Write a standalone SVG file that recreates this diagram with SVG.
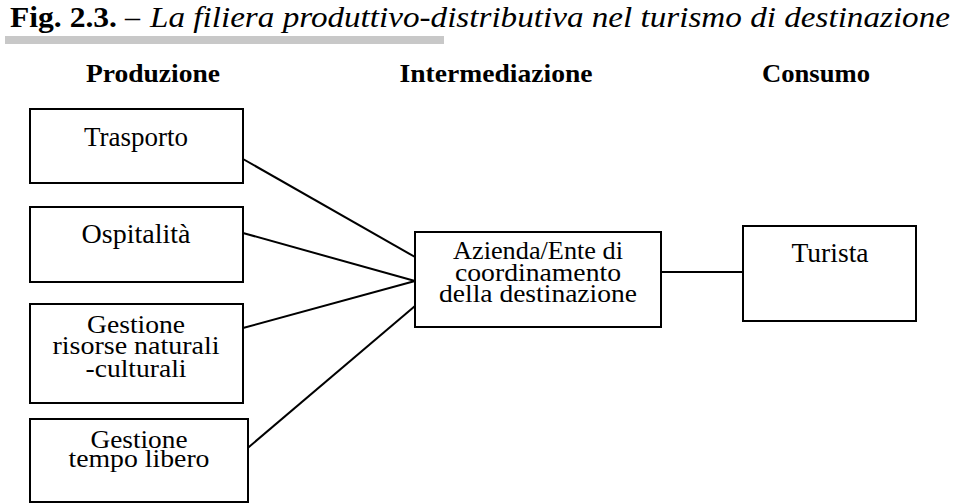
<svg xmlns="http://www.w3.org/2000/svg" width="960" height="504" viewBox="0 0 960 504" font-family="'Liberation Serif', Tinos, 'Times New Roman', Times, serif">
<style>
text{font-family:'Liberation Serif', Tinos, 'Times New Roman', Times, serif;fill:#000}
.box{fill:#fff;stroke:#000;stroke-width:2}
.lbl{font-size:28px;text-anchor:middle}
.sm{font-size:26px;text-anchor:middle}
.hdr{font-size:26px;font-weight:bold;text-anchor:middle}
.ttl{font-size:30px}
#connectors line{stroke:#000;stroke-width:2}
</style>
<rect width="960" height="504" fill="#fff"/>
<g id="title">
<text class="ttl" x="10" y="27" font-weight="bold" textLength="107" lengthAdjust="spacingAndGlyphs">Fig. 2.3.</text>
<text class="ttl" x="125" y="27" font-style="italic">–</text>
<text class="ttl" x="150" y="27" font-style="italic" textLength="800" lengthAdjust="spacingAndGlyphs">La filiera produttivo-distributiva nel turismo di destinazione</text>
<rect x="5" y="36" width="439" height="8" fill="#c8c8c8"/>
</g>
<g id="headers">
<text class="hdr" x="153" y="82" textLength="134" lengthAdjust="spacingAndGlyphs">Produzione</text>
<text class="hdr" x="496" y="82" textLength="193" lengthAdjust="spacingAndGlyphs">Intermediazione</text>
<text class="hdr" x="816" y="82" textLength="108" lengthAdjust="spacingAndGlyphs">Consumo</text>
</g>
<g id="connectors">
<line x1="243" y1="159" x2="415" y2="257"/>
<line x1="243" y1="233" x2="415" y2="281"/>
<line x1="243" y1="328" x2="415" y2="281"/>
<line x1="243" y1="452" x2="415" y2="306"/>
<line x1="661" y1="272" x2="743" y2="272"/>
</g>
<g id="trasporto">
<rect class="box" x="30" y="109" width="213" height="74"/>
<text class="lbl" x="136" y="146" textLength="104" lengthAdjust="spacingAndGlyphs">Trasporto</text>
</g>
<g id="ospitalita">
<rect class="box" x="30" y="207" width="213" height="75"/>
<text class="lbl" x="136" y="243" textLength="109" lengthAdjust="spacingAndGlyphs">Ospitalità</text>
</g>
<g id="risorse">
<rect class="box" x="30" y="304" width="213" height="99"/>
<text class="sm" x="136" y="333" textLength="98" lengthAdjust="spacingAndGlyphs">Gestione</text>
<text class="sm" x="136" y="354" textLength="167" lengthAdjust="spacingAndGlyphs">risorse naturali</text>
<text class="sm" x="136" y="377" textLength="101" lengthAdjust="spacingAndGlyphs">-culturali</text>
</g>
<g id="tempolibero">
<rect class="box" x="30" y="419" width="218" height="83"/>
<text class="sm" x="139" y="448" textLength="97" lengthAdjust="spacingAndGlyphs">Gestione</text>
<text class="sm" x="139" y="467" textLength="141" lengthAdjust="spacingAndGlyphs">tempo libero</text>
</g>
<g id="azienda">
<rect class="box" x="415" y="232" width="246" height="95"/>
<text class="sm" x="538" y="259" textLength="170" lengthAdjust="spacingAndGlyphs">Azienda/Ente di</text>
<text class="sm" x="538" y="281" textLength="166" lengthAdjust="spacingAndGlyphs">coordinamento</text>
<text class="sm" x="538" y="302" textLength="198" lengthAdjust="spacingAndGlyphs">della destinazione</text>
</g>
<g id="turista">
<rect class="box" x="743" y="226" width="173" height="95"/>
<text class="lbl" x="830" y="262" textLength="77" lengthAdjust="spacingAndGlyphs">Turista</text>
</g>
</svg>
